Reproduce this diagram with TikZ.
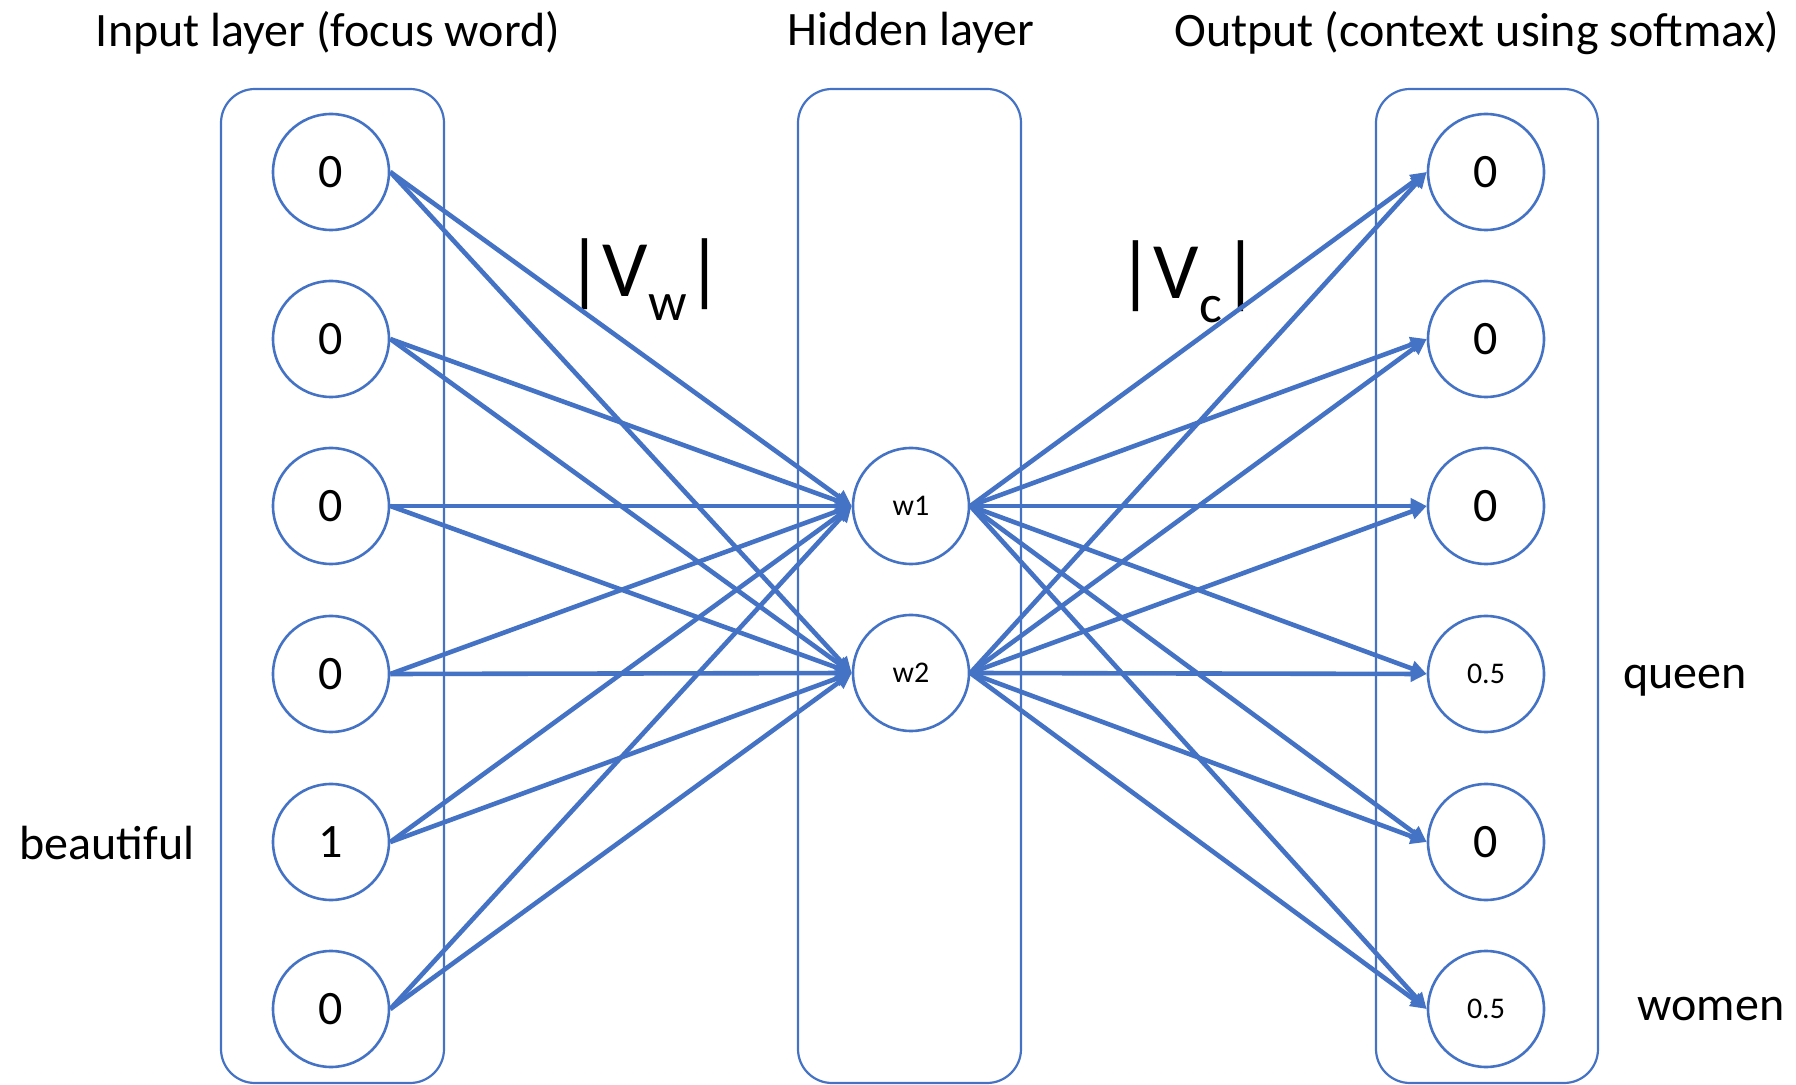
\documentclass[tikz,border=0pt]{standalone}
\usepackage{fontspec}
\setmainfont{Carlito}
\usetikzlibrary{arrows.meta}
\definecolor{officeblue}{HTML}{4472C4}
\begin{document}
\begin{tikzpicture}[x=0.5pt,y=-0.5pt,
  layerbox/.style={draw=officeblue, line width=1.1pt, rounded corners=17pt},
  unit/.style={circle, draw=officeblue, line width=1.3pt, minimum size=58pt, inner sep=0pt, font=\fontsize{24}{24}\selectfont},
  smallunit/.style={unit, font=\fontsize{15}{15}\selectfont},
  link/.style={draw=officeblue, line width=2.3pt, -{Triangle[length=8pt,width=7.5pt]}},
  title/.style={font=\fontsize{24}{28}\selectfont},
  side/.style={font=\fontsize{24}{28}\selectfont},
  dimlabel/.style={font=\fontsize{40}{40}\selectfont, inner sep=0pt}]
\useasboundingbox (0,0) rectangle (1796,1085);

% layer frames
\draw[layerbox] (221,89) rectangle (444,1083);
\draw[layerbox] (798,89) rectangle (1021,1083);
\draw[layerbox] (1376,89) rectangle (1598,1083);

% titles
\node[title] (tin)  at (328,33)  {Input layer (focus word)};
\node[title] (thid) at (911,33)  {Hidden layer};
\node[title] (tout) at (1477,33) {Output (context using softmax)};

% input units (one-hot)
\node[unit] (i1) at (331,172) {0};
\node[unit] (i2) at (331,339) {0};
\node[unit] (i3) at (331,506) {0};
\node[unit] (i4) at (331,674) {0};
\node[unit] (i5) at (331,842) {1};
\node[unit] (i6) at (331,1009) {0};

% hidden units
\node[smallunit] (h1) at (911,506) {w1};
\node[smallunit] (h2) at (911,673) {w2};

% output units
\node[unit]      (o1) at (1486,172) {0};
\node[unit]      (o2) at (1486,339) {0};
\node[unit]      (o3) at (1486,506) {0};
\node[smallunit] (o4) at (1486,674) {0.5};
\node[unit]      (o5) at (1486,842) {0};
\node[smallunit] (o6) at (1486,1009) {0.5};

% word labels
\node[side] (lbeau)  at (107,843)  {beautiful};
\node[side] (lqueen) at (1685,681) {queen};
\node[side] (lwomen) at (1711,1009) {women};

% weight matrix labels
\node[dimlabel] (vw) at (645,280) {|V\raisebox{-0.3em}{\fontsize{27}{27}\selectfont w}|};
\node[dimlabel] (vc) at (1188,282) {|V\raisebox{-0.3em}{\fontsize{27}{27}\selectfont c}|};

% connections
\foreach \i in {1,...,6}
  \foreach \h in {1,2}
    \draw[link] (i\i.east) -- (h\h.west);
\foreach \h in {1,2}
  \foreach \o in {1,...,6}
    \draw[link] (h\h.east) -- (o\o.west);
\end{tikzpicture}
\end{document}
